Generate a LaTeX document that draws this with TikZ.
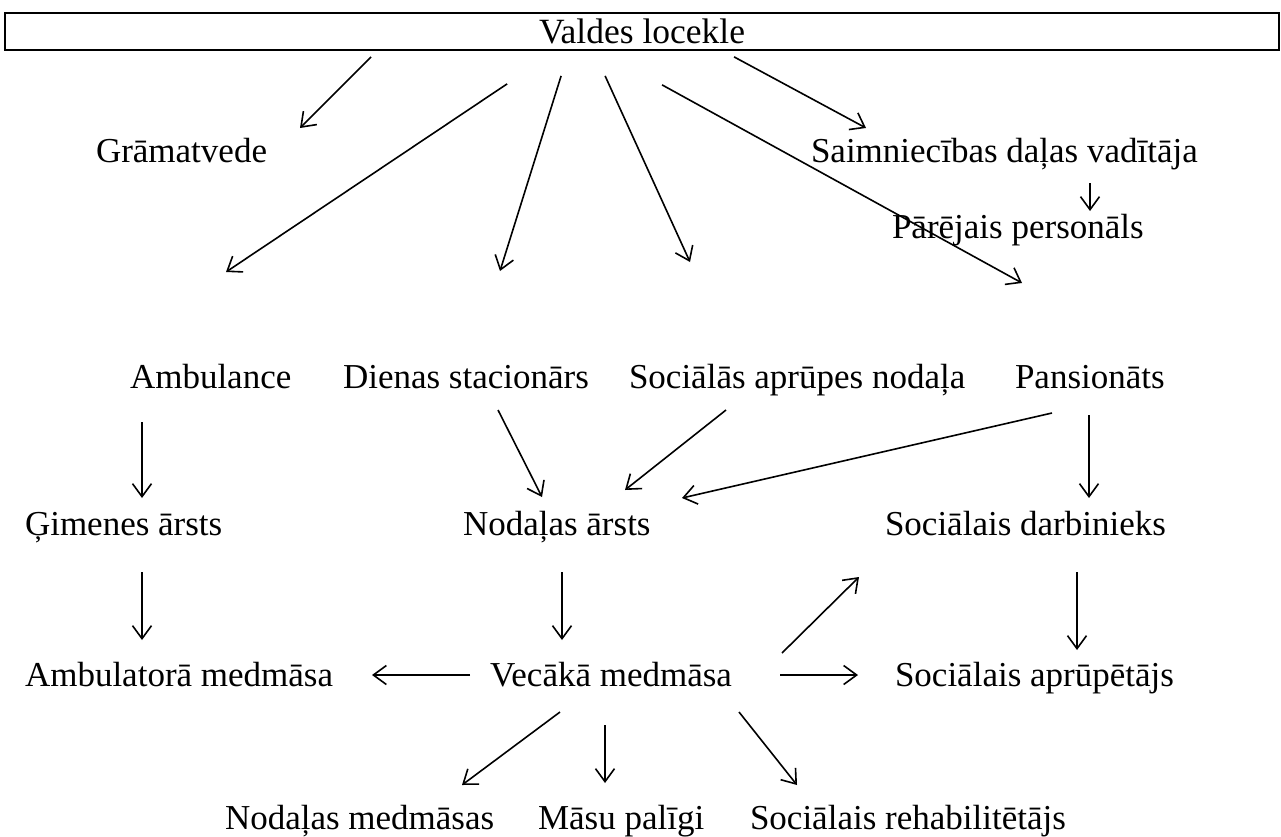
\documentclass[tikz,border=0pt]{standalone}
\usepackage{fontspec}
\setmainfont{Liberation Serif}
\usetikzlibrary{arrows.meta,calc}
\begin{document}
\begin{tikzpicture}[x=1pt,y=-1pt,
  lbl/.style={inner sep=0pt,outer sep=0pt,anchor=base west,font=\fontsize{35}{40}\selectfont},
  arr/.style={line width=1.6pt,-{Straight Barb[length=13pt,width=19pt]}},
  box/.style={draw,line width=1.8pt,minimum width=1274pt,minimum height=37pt,inner sep=0pt,font=\fontsize{35.5}{40}\selectfont}]
\useasboundingbox (0,0) rectangle (1281,836);
\node[box] (top) at (642,31.5) {Valdes locekle};
\node[lbl] (gram) at (96,162) {Grāmatvede};
\node[lbl] (saim) at (811,162) {Saimniecības daļas vadītāja};
\node[lbl] (parej) at (892,238) {Pārējais personāls};
\node[lbl] (amb) at (130,388) {Ambulance};
\node[lbl] (dien) at (343,388) {Dienas stacionārs};
\node[lbl] (soc) at (629,388) {Sociālās aprūpes nodaļa};
\node[lbl] (pans) at (1015,388) {Pansionāts};
\node[lbl] (gim) at (25,535) {Ģimenes ārsts};
\node[lbl] (noda) at (463,535) {Nodaļas ārsts};
\node[lbl] (sdarb) at (885,535) {Sociālais darbinieks};
\node[lbl] (ambm) at (25,686) {Ambulatorā medmāsa};
\node[lbl] (vec) at (490,686) {Vecākā medmāsa};
\node[lbl] (sapr) at (895,686) {Sociālais aprūpētājs};
\node[lbl] (nmed) at (225,829) {Nodaļas medmāsas};
\node[lbl] (masu) at (538,829) {Māsu palīgi};
\node[lbl] (rehab) at (750,829) {Sociālais rehabilitētājs};
% from top box
\draw[arr] ($(top.south west)+(367,6)$) -- ($(gram.base west)+(204,-34)$);
\draw[arr] ($(top.south west)+(730,6)$) -- ($(saim.base west)+(55,-34)$);
\draw[arr] ($(top.south west)+(503,33)$) -- ($(amb.base west)+(96,-116)$);
\draw[arr] ($(top.south west)+(557,25)$) -- ($(dien.base west)+(157,-117)$);
\draw[arr] ($(top.south west)+(601,25)$) -- ($(soc.base west)+(61,-126)$);
\draw[arr] ($(top.south west)+(658,34)$) -- ($(pans.base west)+(7,-105)$);
\draw[arr] ($(saim.base west)+(279,21)$) -- ($(parej.base west)+(198,-27)$);
% row 2 to row 3
\draw[arr] ($(amb.base west)+(12,34)$) -- ($(gim.base west)+(117,-37)$);
\draw[arr] ($(dien.base west)+(155,22)$) -- ($(noda.base west)+(79,-38)$);
\draw[arr] ($(soc.base west)+(97,22)$) -- ($(noda.base west)+(162,-45)$);
\draw[arr] ($(pans.base west)+(37,25)$) -- ($(noda.base west)+(219,-37)$);
\draw[arr] ($(pans.base west)+(74,27)$) -- ($(sdarb.base west)+(204,-37)$);
% row 3 to row 4
\draw[arr] ($(gim.base west)+(117,37)$) -- ($(ambm.base west)+(117,-46)$);
\draw[arr] ($(noda.base west)+(99,37)$) -- ($(vec.base west)+(72,-46)$);
\draw[arr] ($(sdarb.base west)+(192,37)$) -- ($(sapr.base west)+(182,-36)$);
% row 4
\draw[arr] ($(vec.base west)+(-20,-11)$) -- ($(ambm.base west)+(347,-11)$);
\draw[arr] ($(vec.base west)+(290,-11)$) -- ($(sapr.base west)+(-37,-11)$);
\draw[arr] ($(vec.base west)+(292,-33)$) -- ($(sdarb.base west)+(-26,42)$);
% to bottom
\draw[arr] ($(vec.base west)+(70,26)$) -- ($(nmed.base west)+(237,-44)$);
\draw[arr] ($(vec.base west)+(115,39)$) -- ($(masu.base west)+(67,-46)$);
\draw[arr] ($(vec.base west)+(249,26)$) -- ($(rehab.base west)+(47,-44)$);
\end{tikzpicture}
\end{document}
